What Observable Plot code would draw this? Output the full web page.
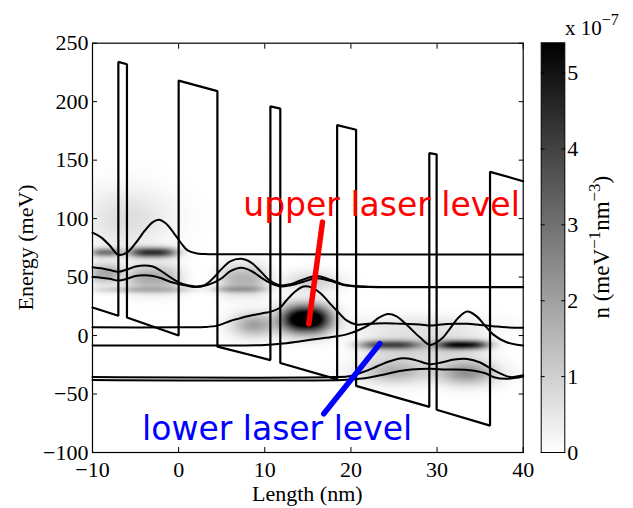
<!DOCTYPE html>
<html><head><meta charset="utf-8">
<script src="https://cdn.jsdelivr.net/npm/d3@7"></script>
<script src="https://cdn.jsdelivr.net/npm/@observablehq/plot@0.6"></script>
<style>
html,body{margin:0;padding:0;background:#fff;}
#wrap{position:relative;width:633px;height:508px;overflow:hidden;background:#fff;}
#wrap svg{position:absolute;left:0;top:0;}
</style></head><body><div id="wrap"></div>
<script>
// ---------- data ----------
// conduction band profile (nm, meV)
const potX = [-10, -7.0, -7.0, -6.0, -6.0, 0, 0, 4.5, 4.5, 10.65, 10.65, 11.8, 11.8, 18.4, 18.4, 20.6, 20.6, 29.1, 29.1, 29.95, 29.95, 36.15, 36.15, 40];
const potE = [24, 17, 234, 232, 15.5, 0, 218, 209, -9.5, -21, 196, 194, -23.5, -37.5, 180, 176, -43, -61, 156, 155, -63.5, -77, 140, 132];

// subband wavefunctions (energy + |psi|^2)
const xA = [-10, -9, -8, -7, -6, -5, -4, -3, -2.3, -1.5, -0.5, 0.5, 1, 2, 3, 5, 40];
const eA = [88, 84, 77, 69, 71, 79, 89, 97, 99, 96, 87, 77, 73, 70.3, 69.7, 69.5, 69.3];
const xB = [-10, -9, -8, -7, -6, -5, -4, -3, -2, -1, 0, 1, 2, 3, 4, 5, 6, 7.3, 8.5, 9.5, 10.6, 11.8, 13, 14.5, 16, 17.5, 19, 20.5, 22, 40];
const eB = [58.5, 57.5, 56, 54.5, 56.5, 59, 60, 59, 55, 50, 45.5, 43, 42, 43, 49, 57, 63.5, 65.6, 62, 55, 47, 43, 44, 48, 51, 48, 44, 42.3, 41.8, 41.5];
const xC = [-10, -9, -8, -7, -6, -5, -4, -3, -2, -1, 0, 1, 2, 3, 4, 5, 6, 7.3, 8.5, 9.5, 10.6, 11.8, 13, 14.5, 16, 17.5, 19, 20.5, 22, 40];
const eC = [50, 49.5, 48.5, 47, 48.5, 51, 51.5, 51, 49, 46, 44, 42.5, 41.5, 42.5, 45, 49, 55, 58, 55, 50, 45, 42, 43, 46, 49, 47, 43.5, 42, 41.5, 41.3];
const xD = [-10, 0, 3, 4.5, 6, 7, 8, 9, 10, 10.7, 11.8, 12.5, 13.5, 14.5, 15.5, 16.5, 17.5, 18.4, 19.5, 20.6, 22, 24, 26, 28, 29.2, 30.5, 32, 33.5, 35, 36.5, 38, 40];
const eD = [7, 7, 7.3, 8.5, 12.5, 14.5, 16.5, 18, 19.5, 20.5, 24, 30, 37.5, 42, 41, 36, 28, 21, 13, 9.5, 10, 10.5, 10, 9.5, 8.5, 9.5, 10, 10, 9, 8, 7, 6.6];
const xE = [-10, 5, 10, 11.8, 14, 16, 18, 19.5, 21, 22.3, 23.3, 24.3, 25.3, 26.5, 28, 29.2, 30.5, 31.5, 32.5, 33.5, 34.5, 35.5, 36.5, 38, 40];
const eE = [-8.5, -8.5, -8, -7, -5, -3, -1, 1, 5, 10, 15.5, 18.5, 16.5, 9, -1.5, -8, -3, 6, 15.5, 20.5, 17, 9, 1, -5.5, -8.5];
const xF = [-10, 18, 20, 21.5, 23, 24.5, 26, 27.5, 29.2, 30.5, 32, 33.5, 35, 36.3, 37.5, 38.5, 40];
const eF = [-35.5, -35.5, -34.5, -31, -26.5, -22, -19.5, -21, -24.5, -23, -20.5, -20, -23, -28.5, -33, -35.5, -34];
const xG = [-10, 19, 21, 22.3, 24, 25.5, 27, 29.2, 31, 33.5, 35.5, 36.6, 38, 40];
const eG = [-38, -38, -37, -35.6, -33, -30.5, -29, -28.4, -29, -29.4, -32, -35.6, -37, -35];

// electron density patches: x centre (nm), x half-width, x edge sharpness, energy centre (meV), energy spread, peak n (1e-7)
const blobX  = [-8.5, -3,  -6,  -8.5, -3,  -4,  7.5, 7,    15.5, 14.8, 8.8, 28, 24.5, 33,  28.5, 25,  33.5];
const blobSX = [1.3,  2.2, 3.5, 1.4,  2.5, 5,   2.2, 2.5,  2.2,  2.1,  1.8, 6,  2.8,  2.4, 6,    2.8, 2.3];
const blobP  = [3,    3,   2,   3,    3,   4,   3,   3,    2,    2.5,  2,   2,  3,    3,   4,    2,   2];
const blobE  = [71,   71,  100, 53,   49,  39,  48,  39.5, 46,   14,   9,   9,  -8,   -8,  -10,  -31, -32];
const blobSE = [2.6,  3,   18,  6,    8,   2,   9,   2,    6,    8,    7,   6,  2.6,  2.6, 9,    7,   7];
const blobN  = [2.8,  4.3, 0.7, 1.8,  1.8, 1.0, 1.6, 1.3,  1.0,  7.0,  2.0, 0.5, 3.3, 4.5, 0.9,  1.6, 2.3];

const xTicks = [-10, 0, 10, 20, 30, 40];
const yTicks = [-100, -50, 0, 50, 100, 150, 200, 250];
const cTicks = [0, 1, 2, 3, 4, 5];
const cMax = 5.4;

// annotations
const upperArrow = {x1: 15.1, y1: 10, x2: 16.7, y2: 97};
const lowerArrow = {x1: 16.85, y1: -66.9, x2: 23.35, y2: -7};
const upperLabel = {x: 7.5, y: 102.5, text: "upper laser level"};
const lowerLabel = {x: -4.25, y: -89.5, text: "lower laser level"};

// ---------- build ----------
const W = 633, H = 508;
const fL = 92, fR = 522.7, fT = 42.7, fB = 452;
const serif = "Liberation Serif, Times New Roman, serif";
const FS = 22;

function density(x, y) {
  let s = 0;
  for (let i = 0; i < blobX.length; i++) {
    const dx = Math.abs((x - blobX[i]) / blobSX[i]), dy = (y - blobE[i]) / blobSE[i];
    s += blobN[i] * Math.exp(-0.5 * (Math.pow(dx, blobP[i]) + dy * dy));
  }
  return s;
}
const pts = (xs, es) => xs.map((x, i) => ({x, e: es[i]}));
const states = [[xA, eA], [xB, eB], [xC, eC], [xD, eD], [xE, eE], [xF, eF], [xG, eG]];
const colorScale = {type: "linear", domain: [0, cMax], range: ["white", "black"], interpolate: "rgb", clamp: true};
const tf = {fontFamily: serif, fontSize: FS};

const main = Plot.plot({
  width: W, height: H,
  marginLeft: fL, marginRight: W - fR, marginTop: fT, marginBottom: H - fB,
  style: {fontFamily: serif, fontSize: FS + "px", background: "transparent", overflow: "visible"},
  x: {domain: [-10, 40], axis: null},
  y: {domain: [-100, 250], axis: null},
  color: colorScale,
  marks: [
    Plot.raster({fill: density, x1: -10, x2: 40, y1: -100, y2: 250, pixelSize: 1}),
    Plot.line(pts(potX, potE), {x: "x", y: "e", stroke: "black", strokeWidth: 2.2, strokeLinejoin: "miter"}),
    ...states.map(([xs, es]) => Plot.line(pts(xs, es), {x: "x", y: "e", curve: "catmull-rom", stroke: "black", strokeWidth: 2})),
    Plot.link([upperArrow], {x1: "x1", y1: "y1", x2: "x2", y2: "y2", stroke: "#ff0000", strokeWidth: 5.5, strokeLinecap: "round"}),
    Plot.link([lowerArrow], {x1: "x1", y1: "y1", x2: "x2", y2: "y2", stroke: "#0000ff", strokeWidth: 5.5, strokeLinecap: "round"}),
    Plot.text([upperLabel], {x: "x", y: "y", text: "text", fill: "#ff0000", fontSize: 33, fontFamily: "DejaVu Sans, sans-serif", textAnchor: "start", lineAnchor: "bottom"}),
    Plot.text([lowerLabel], {x: "x", y: "y", text: "text", fill: "#0000ff", fontSize: 33, fontFamily: "DejaVu Sans, sans-serif", textAnchor: "start", lineAnchor: "bottom"}),
    Plot.frame({stroke: "black", strokeWidth: 1.2}),
    Plot.axisX({anchor: "bottom", ticks: xTicks, tickSize: 0, tickPadding: 9, label: null, ...tf}),
    Plot.axisY({anchor: "left", ticks: yTicks, tickSize: 0, tickPadding: 4, label: null, ...tf}),
    Plot.axisX({anchor: "bottom", ticks: xTicks, tickSize: -5, fill: "none", label: null}),
    Plot.axisX({anchor: "top", ticks: xTicks, tickSize: -5, fill: "none", label: null}),
    Plot.axisY({anchor: "left", ticks: yTicks, tickSize: -5, fill: "none", label: null}),
    Plot.axisY({anchor: "right", ticks: yTicks, tickSize: -5, fill: "none", label: null})
  ]
});

const cbL = 540.7, cbR = 564.3, cbT = 42.3, cbB = 452;
const bar = Plot.plot({
  width: W, height: H,
  marginLeft: cbL, marginRight: W - cbR, marginTop: cbT, marginBottom: H - cbB,
  style: {fontFamily: serif, fontSize: FS + "px", background: "transparent", overflow: "visible"},
  x: {domain: [0, 1], axis: null},
  y: {domain: [0, cMax], axis: null},
  color: colorScale,
  marks: [
    Plot.raster({fill: (x, y) => y, x1: 0, x2: 1, y1: 0, y2: cMax, pixelSize: 1}),
    Plot.frame({stroke: "black", strokeWidth: 1}),
    Plot.axisY({anchor: "right", ticks: cTicks, tickFormat: d3.format("d"), tickSize: 0, tickPadding: 2.5, label: null, ...tf}),
    Plot.axisY({anchor: "left", ticks: cTicks, tickSize: -4, fill: "none", label: null}),
    Plot.axisY({anchor: "right", ticks: cTicks, tickSize: -4, fill: "none", label: null})
  ]
});

const wrap = document.getElementById("wrap");
wrap.appendChild(main);
wrap.appendChild(bar);

// axis titles
const sv = d3.select(main);
sv.append("text").attr("x", (fL + fR) / 2).attr("y", 501).attr("text-anchor", "middle")
  .attr("font-family", serif).attr("font-size", FS).attr("fill", "black").text("Length (nm)");
sv.append("text").attr("transform", `translate(33,${(fT + fB) / 2}) rotate(-90)`).attr("text-anchor", "middle")
  .attr("font-family", serif).attr("font-size", FS).attr("fill", "black").text("Energy (meV)");

const bv = d3.select(bar);
const cl = bv.append("text").attr("transform", `translate(609,${(cbT + cbB) / 2}) rotate(-90)`).attr("text-anchor", "middle")
  .attr("font-family", serif).attr("font-size", 23).attr("fill", "black");
cl.append("tspan").text("n (meV");
cl.append("tspan").attr("dy", -9).attr("font-size", 17).text("\u22121");
cl.append("tspan").attr("dy", 9).text("nm");
cl.append("tspan").attr("dy", -9).attr("font-size", 17).text("\u22123");
cl.append("tspan").attr("dy", 9).text(")");
const xl = bv.append("text").attr("x", 565).attr("y", 35).attr("text-anchor", "start").attr("font-family", serif).attr("font-size", 21).attr("fill", "black");
xl.append("tspan").text("x 10");
xl.append("tspan").attr("dy", -10).attr("font-size", 16).text("\u22127");
</script></body></html>
